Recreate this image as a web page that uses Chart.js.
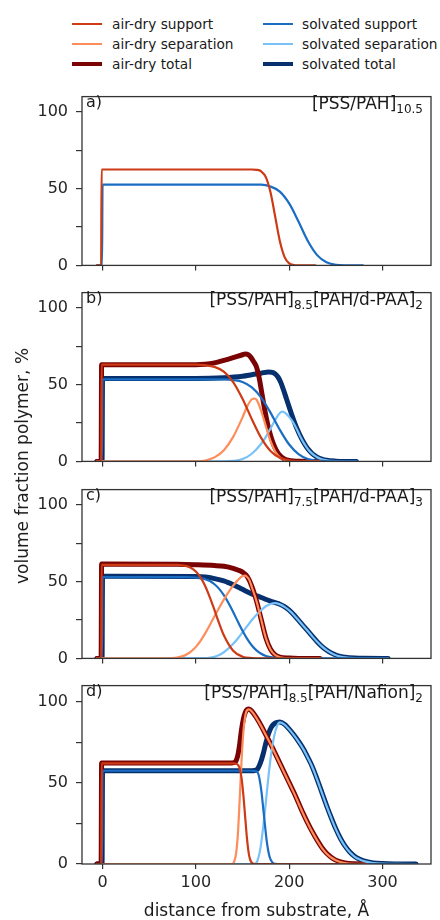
<!DOCTYPE html>
<html><head><meta charset="utf-8">
<script src="https://cdn.jsdelivr.net/npm/chart.js@4"></script>
<style>
body{margin:0;background:#fff;}
#wrap{position:relative;width:440px;height:920px;font-family:"DejaVu Sans",sans-serif;color:#1a1a1a;overflow:hidden;background:#fff;}
canvas.pc{position:absolute;left:0;}
.sw{position:absolute;width:30px;}
.lt{position:absolute;font-size:13.7px;line-height:16px;white-space:nowrap;}
.plab{position:absolute;left:86px;font-size:16px;line-height:20px;}
.ann{position:absolute;right:17px;font-size:17px;line-height:20px;white-space:nowrap;}
.ann sub{font-size:12px;vertical-align:-4px;line-height:0;}
#ytitle{position:absolute;left:22px;top:466px;transform:translate(-50%,-50%) rotate(-90deg);font-size:17px;white-space:nowrap;}
#xtitle{position:absolute;left:256.5px;top:910px;transform:translate(-50%,-50%);font-size:17px;white-space:nowrap;}
</style></head>
<body>
<div id="wrap">
  <div id="legend"></div>
  <canvas class="pc" id="pa"></canvas>
  <canvas class="pc" id="pb"></canvas>
  <canvas class="pc" id="pc"></canvas>
  <canvas class="pc" id="pd"></canvas>
  <div id="labels"></div>
  <div id="ytitle">volume fraction polymer, %</div>
  <div id="xtitle">distance from substrate, Å</div>
</div>
<script>
// ---------- DATA ----------
const seriesNames = ["air-dry support","air-dry separation","air-dry total","solvated support","solvated separation","solvated total"];
const panelLabels = ["a)","b)","c)","d)"];
const panelTitles = [
  ["[PSS/PAH]","10.5"],
  ["[PSS/PAH]","8.5","[PAH/d-PAA]","2"],
  ["[PSS/PAH]","7.5","[PAH/d-PAA]","3"],
  ["[PSS/PAH]","8.5","[PAH/Nafion]","2"]
];
const xTicks = [0,100,200,300];
const xTickLabels = ["0","100","200","300"];
const yTicks = [0,25,50,75,100];
const yTickLabels = ["0","","50","","100"];

// panel a
const airSupA_x = [-6,-1.5,-1,100,160,165,170,175,180,185,190,195,200,205,210,228];
const airSupA_y = [0,0,62.5,62.5,62.5,62.3,61.3,57.5,47.6,31.9,15.9,5.6,1.3,0.2,0,0];
const solSupA_x = [-6,-0.5,0,100,170,180,190,200,210,220,230,240,250,260,279];
const solSupA_y = [0,0,52.7,52.7,52.6,51.4,48.1,40.4,28.6,15.9,6.7,2.0,0.44,0.07,0];

// panel b
const airSupB_x = [-6,-1.5,-1,100,110,120,130,140,150,160,170,180,190,200,210,220,233];
const airSupB_y = [0,0,63,63,62.7,61.6,58.5,51.7,40.8,27.5,15.3,6.8,2.4,0.64,0.13,0,0];
const airSepB_x = [-6,100,110,120,130,140,150,155,160,163,165,170,175,180,185,190,195,200,210,233];
const airSepB_y = [0,0,0.6,2.6,7.3,16,28.7,35.8,40.5,41,40.2,33,23,13.3,6.5,2.7,0.9,0.2,0,0];
const airTotB_x = [-6,-1.5,-1,100,110,120,130,140,150,153,156,159,162,165,168,171,174,177,180,183,186,189,192,195,200,205,210,233];
const airTotB_y = [0,0,63,63,63.3,64.2,65.8,67.6,69.5,70,69.6,67.8,65,61.5,54,43.5,33,24,17,11.5,7.5,4.7,2.8,1.6,0.6,0.2,0.05,0];
const solSupB_x = [-6,-0.5,0,100,130,140,150,160,170,180,190,200,210,220,230,240,250,272];
const solSupB_y = [0,0,53.5,53.5,53.4,53,51.7,48.2,41.6,31.8,20.6,11,4.8,1.6,0.45,0.1,0,0];
const solSepB_x = [-6,130,140,150,160,170,176,180,185,190,193,196,200,203,206,209,212,215,218,221,224,227,230,235,240,250,260,272];
const solSepB_y = [0,0,0.3,1.5,5,11.5,17,21.5,27,31.5,32.4,31.5,29,26.5,23.6,20,16,12.7,9.8,7.3,5.4,3.9,2.7,1.4,0.7,0.15,0,0];
const solTotB_x = [-6,-0.5,0,100,130,150,160,170,178,182,185,188,191,194,197,200,203,206,209,212,215,218,221,224,227,230,235,240,250,260,272];
const solTotB_y = [0,0,54,54,54.5,55.5,56.5,57.5,58.3,58,57,55,51.5,46.5,41,35.5,30,25,20.5,16.5,13,10,7.5,5.5,4,2.8,1.5,0.7,0.15,0,0];

// panel c
const airSupC_x = [-6,-1.5,-1,70,80,85,90,95,100,105,110,115,120,125,130,140,150,160,170,233];
const airSupC_y = [0,0,61,61,61,60.7,60.1,58.9,56.6,52.8,47.2,39.8,31.5,22.8,15.1,5,1.1,0.2,0,0];
const airSepC_x = [-6,70,75,80,85,90,95,100,105,110,115,120,125,130,135,140,145,150,153,155,157,160,165,170,175,180,185,190,195,200,210,233];
const airSepC_y = [0,0,0.2,0.6,1.3,2.6,4.6,7.5,11.5,16.3,21.8,27.5,33,38.3,43.2,47.4,51,53.7,54,53,51.5,46.5,37.3,25.3,13.3,5.8,2.2,0.7,0.25,0.1,0,0];
const airTotC_x = [-6,-1.5,-1,80,100,120,130,140,145,150,155,160,165,170,175,180,185,190,200,210,233];
const airTotC_y = [0,0,61.5,61.3,61,60.5,60,58.7,57.6,56.2,53.4,47,37.5,25.5,13.5,6,2.3,0.8,0.2,0,0];
const solSupC_x = [-6,-0.5,0,90,100,105,110,115,120,125,130,135,140,145,150,155,160,165,170,175,180,185,190,200,306];
const solSupC_y = [0,0,53,53,52.7,52.3,51.6,50.4,48.3,45.3,41.2,36.1,30.2,24,18,12.7,8.4,5.2,3,1.6,0.8,0.36,0.15,0,0];
const solSepC_x = [-6,110,115,120,125,130,135,140,145,150,155,160,165,170,175,180,185,190,195,200,205,210,215,220,225,230,235,240,245,250,255,260,270,280,306];
const solSepC_y = [0,0.2,0.5,1,2.2,4,6.5,9.5,13,17,21,25,28.5,31.5,34,35.5,36,35.2,33.6,31.3,28.3,24.8,21.3,17.8,14.2,10.8,7.8,5.4,3.5,2.1,1.2,0.7,0.2,0.05,0];
const solTotC_x = [-6,-0.5,0,100,110,120,130,140,150,160,170,180,185,190,195,200,205,210,215,220,225,230,235,240,245,250,255,260,270,280,306];
const solTotC_y = [0,0,53.5,53.3,53,52,50.5,48,45,42,39.7,37.3,36.3,35.3,33.7,31.4,28.4,24.9,21.4,17.9,14.3,10.9,7.9,5.5,3.6,2.2,1.3,0.75,0.25,0.05,0];

// panel d
const airSupD_x = [-6,-1.5,-1,140,144,147,149,151,153,155,157,159,161,164,283];
const airSupD_y = [0,0,62,62,61.7,59,53,42,28,14.5,5.5,1.5,0.3,0,0];
const airSepD_x = [-6,139,141,143,145,147,149,151,153,155,157,160,165,170,175,180,185,190,195,200,205,210,215,220,225,230,235,240,245,250,255,260,270,283];
const airSepD_y = [0,0,1.5,6,18,40,64,82,91.5,95,95.4,94,90,85,79.5,74,68,62,56,50,44,37.5,31,25,19.5,14.5,10,6.5,4,2.3,1.2,0.6,0.15,0];
const airTotD_x = [-6,-1.5,-1,138,141,143,145,147,149,151,153,155,157,160,165,170,175,180,185,190,195,200,205,210,215,220,225,230,235,240,245,250,255,260,270,283];
const airTotD_y = [0,0,62.3,62.3,62.6,63.5,67,74,83,89.5,93.5,95.3,95.6,94.2,90.2,85.2,79.7,74.2,68.2,62.2,56.2,50.2,44.2,37.7,31.2,25.2,19.7,14.7,10.2,6.7,4.2,2.4,1.3,0.65,0.17,0];
const solSupD_x = [-6,-0.5,0,160,164,167,170,173,176,179,182,185,188,336];
const solSupD_y = [0,0,57.5,57.5,57.3,55.5,46,30,14,4.5,1,0.1,0,0];
const solSepD_x = [-6,163,166,169,172,175,178,181,184,187,190,195,200,205,210,215,220,225,230,235,240,245,250,255,260,265,270,275,280,290,300,315,336];
const solSepD_y = [0,0,2,9,22,38,55,69,79,85,87.3,86,83,79.5,75.5,71,65.5,59.5,52,44,36,28.5,21.5,15.5,10.8,7.2,4.6,2.9,1.8,0.6,0.2,0.03,0];
const solTotD_x = [-6,-0.5,0,160,163,166,169,172,175,178,181,184,187,190,195,200,205,210,215,220,225,230,235,240,245,250,255,260,265,270,275,280,290,300,315,336];
const solTotD_y = [0,0,57.5,57.5,57.6,58.5,62,67.5,74.5,80.5,84.5,86.5,87.3,87.5,86.2,83.2,79.7,75.7,71.2,65.7,59.7,52.2,44.2,36.2,28.7,21.7,15.7,11,7.4,4.8,3.1,1.9,0.7,0.25,0.05,0];

// ---------- STYLE ----------
const COL = {airSup:'#cc3a16', airSep:'#fd8d5b', airTot:'#7a0303', solSup:'#1a6dc2', solSep:'#78c2f7', solTot:'#06306e'};
const THIN = 2.2, THICK = 5;
const legendItems = [
  {c:COL.airSup,w:2.3},{c:COL.airSep,w:2.3},{c:COL.airTot,w:4.5},
  {c:COL.solSup,w:2.3},{c:COL.solSep,w:2.3},{c:COL.solTot,w:4.5}
];

const panels = [
  {id:'pa', top:89, bot:275, series:[[airSupA_x,airSupA_y,COL.airSup,THIN],[solSupA_x,solSupA_y,COL.solSup,THIN]]},
  {id:'pb', top:285.3, bot:471.5, series:[
    [airSupB_x,airSupB_y,COL.airSup,THIN],[airSepB_x,airSepB_y,COL.airSep,THIN],
    [solSupB_x,solSupB_y,COL.solSup,THIN],[solSepB_x,solSepB_y,COL.solSep,THIN],
    [airTotB_x,airTotB_y,COL.airTot,THICK],[solTotB_x,solTotB_y,COL.solTot,THICK]]},
  {id:'pc', top:481.5, bot:667.5, series:[
    [airSupC_x,airSupC_y,COL.airSup,THIN],[airSepC_x,airSepC_y,COL.airSep,THIN],
    [solSupC_x,solSupC_y,COL.solSup,THIN],[solSepC_x,solSepC_y,COL.solSep,THIN],
    [airTotC_x,airTotC_y,COL.airTot,THICK],[solTotC_x,solTotC_y,COL.solTot,THICK]]},
  {id:'pd', top:678, bot:864, series:[
    [airSupD_x,airSupD_y,COL.airSup,THIN],[airSepD_x,airSepD_y,COL.airSep,THIN],
    [solSupD_x,solSupD_y,COL.solSup,THIN],[solSepD_x,solSepD_y,COL.solSep,THIN],
    [airTotD_x,airTotD_y,COL.airTot,THICK],[solTotD_x,solTotD_y,COL.solTot,THICK]]}
];

// ---------- LEGEND (HTML) ----------
const leg = document.getElementById('legend');
const legCols = [{sx:72,tx:112},{sx:263,tx:302}];
const legRows = [24,44,64];
seriesNames.forEach((n,i)=>{
  const col = legCols[Math.floor(i/3)], ry = legRows[i%3], it = legendItems[i];
  const s = document.createElement('div'); s.className='sw';
  s.style.left=col.sx+'px'; s.style.top=(ry-it.w/2)+'px'; s.style.height=it.w+'px'; s.style.background=it.c;
  leg.appendChild(s);
  const t = document.createElement('div'); t.className='lt';
  t.style.left=col.tx+'px'; t.style.top=(ry-8)+'px'; t.textContent=n;
  leg.appendChild(t);
});

// ---------- PANEL LABELS ----------
const lab = document.getElementById('labels');
panels.forEach((p,i)=>{
  const a = document.createElement('div'); a.className='plab';
  a.style.top=(p.top+3)+'px'; a.textContent=panelLabels[i]; lab.appendChild(a);
  const b = document.createElement('div'); b.className='ann';
  b.style.top=(p.top+4)+'px';
  const parts = panelTitles[i];
  for(let k=0;k<parts.length;k+=2){
    b.appendChild(document.createTextNode(parts[k]));
    if(parts[k+1]){const s=document.createElement('sub'); s.textContent=parts[k+1]; b.appendChild(s);}
  }
  lab.appendChild(b);
});

// ---------- CHARTS ----------
Chart.defaults.font.family = 'DejaVu Sans';
Chart.defaults.font.size = 16;
Chart.defaults.color = '#262626';

const framePlugin = {id:'frame', afterDatasetsDraw(c){
  const a=c.chartArea, x=c.ctx; x.save(); x.strokeStyle='#333'; x.lineWidth=1.3;
  x.strokeRect(a.left, a.top, a.right-a.left, a.bottom-a.top); x.restore();
}};

const PADTOP = 10;
panels.forEach((p,idx)=>{
  const last = idx===panels.length-1;
  const bottomH = last ? 34 : 8;
  const cv = document.getElementById(p.id);
  const h = Math.round(p.bot - p.top) + PADTOP + bottomH;
  cv.width = 440; cv.height = h;
  cv.style.top = (p.top - PADTOP)+'px';
  cv.style.width='440px'; cv.style.height=h+'px';
  new Chart(cv, {
    type:'line',
    data:{datasets: p.series.map(s=>({
      data: s[0].map((v,i)=>({x:v,y:s[1][i]})),
      borderColor:s[2], borderWidth:s[3], pointRadius:0, fill:false,
      cubicInterpolationMode:'monotone', borderCapStyle:'round', borderJoinStyle:'round'
    }))},
    options:{
      responsive:false, animation:false, devicePixelRatio:1,
      layout:{padding:{top:PADTOP,right:9,left:0,bottom:0}},
      plugins:{legend:{display:false}, tooltip:{enabled:false}},
      scales:{
        x:{type:'linear', min:-22, max:352,
          afterBuildTicks: ax=>{ax.ticks = xTicks.map(v=>({value:v}));},
          afterFit: ax=>{ax.height = bottomH;},
          grid:{drawOnChartArea:false, drawTicks:true, tickLength:5, color:'#333', lineWidth:1.2},
          border:{display:false},
          ticks:{display:last, padding:4, maxRotation:0, autoSkip:false,
            callback:(v)=>xTickLabels[xTicks.indexOf(v)] ?? ''}
        },
        y:{type:'linear', min:0, max:110,
          afterBuildTicks: ax=>{ax.ticks = yTicks.map(v=>({value:v}));},
          afterFit: ax=>{ax.width = 82;},
          grid:{drawOnChartArea:false, drawTicks:true, tickLength:6, color:'#333', lineWidth:1.2},
          border:{display:false},
          ticks:{padding:8, autoSkip:false,
            callback:(v)=>yTickLabels[yTicks.indexOf(v)] ?? ''}
        }
      }
    },
    plugins:[framePlugin]
  });
});
</script>
</body></html>
